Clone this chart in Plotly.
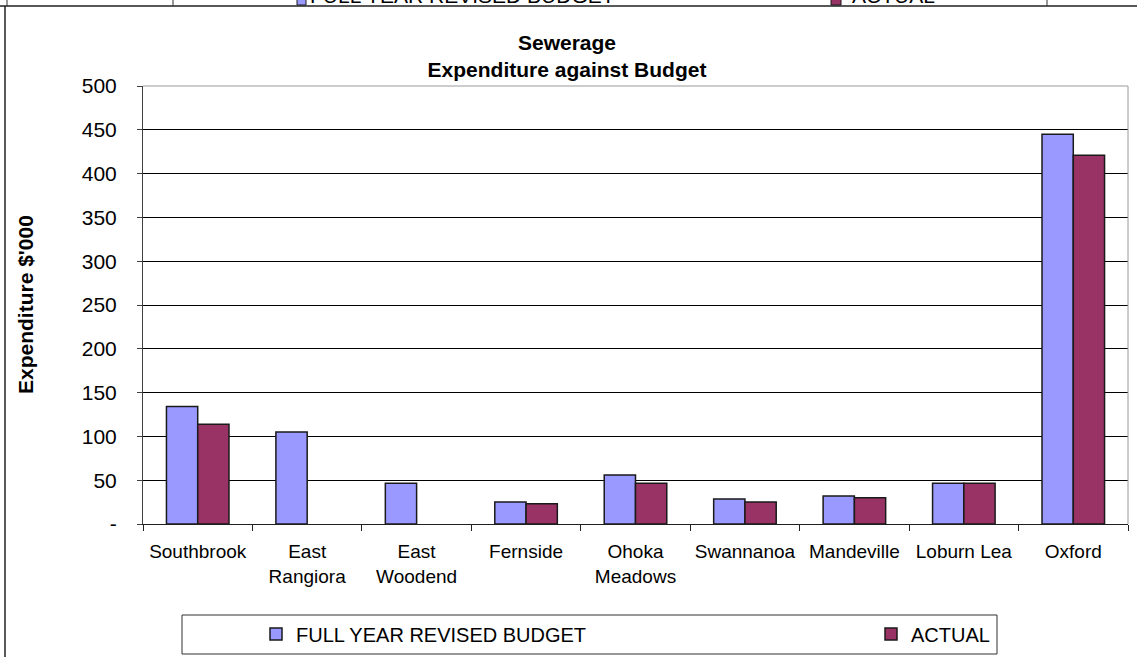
import plotly.graph_objects as go

# Sewerage capital expenditure by scheme ($'000)
schemes = ["Southbrook", "East<br>Rangiora", "East<br>Woodend", "Fernside", "Ohoka<br>Meadows",
           "Swannanoa", "Mandeville", "Loburn Lea", "Oxford"]
budget = [134, 105, 46.5, 25, 56, 28.5, 32, 46.5, 445]
actual = [114, None, None, 23, 46.5, 25, 30, 46.5, 421]

y_ticks = [0, 50, 100, 150, 200, 250, 300, 350, 400, 450, 500]
y_tick_text = ["-"] + [str(v) for v in y_ticks[1:]]

W, H = 1137, 657
L, R, T, B = 143, 1128, 86, 524
FONT = "Arial, Liberation Sans, sans-serif"


def px_x(px):
    return (px - L) / (R - L)


def px_y(py):
    return (B - py) / (B - T)


fig = go.Figure()
fig.add_trace(go.Bar(name="FULL YEAR REVISED BUDGET", x=schemes, y=budget, legend="legend",
                     marker=dict(color="#9999FF", line=dict(color="#1a1a1a", width=1.5))))
fig.add_trace(go.Bar(name="ACTUAL", x=schemes, y=actual, legend="legend2",
                     marker=dict(color="#993366", line=dict(color="#1a1a1a", width=1.5))))

shapes = [
    # plot area frame (top and right in grey)
    dict(type="line", xref="paper", yref="paper", x0=0, x1=1, y0=1, y1=1,
         line=dict(color="#9a9a9a", width=1), layer="above"),
    dict(type="line", xref="paper", yref="paper", x0=1, x1=1, y0=0, y1=1,
         line=dict(color="#9a9a9a", width=1), layer="above"),
    # outer chart border
    dict(type="line", xref="paper", yref="paper", x0=px_x(5), x1=px_x(5), y0=px_y(6), y1=px_y(700),
         line=dict(color="#202020", width=1.5)),
    dict(type="line", xref="paper", yref="paper", x0=px_x(-5), x1=px_x(1200), y0=px_y(6), y1=px_y(6),
         line=dict(color="#202020", width=1.5)),
    # legend box
    dict(type="rect", xref="paper", yref="paper", x0=px_x(182), x1=px_x(997), y0=px_y(615), y1=px_y(654),
         line=dict(color="#303030", width=1), fillcolor="rgba(0,0,0,0)"),
    # neighbouring legend strip at the top edge
    dict(type="line", xref="paper", yref="paper", x0=px_x(7), x1=px_x(7), y0=px_y(-5), y1=px_y(6),
         line=dict(color="#303030", width=1)),
    dict(type="line", xref="paper", yref="paper", x0=px_x(173), x1=px_x(173), y0=px_y(-5), y1=px_y(6),
         line=dict(color="#303030", width=1)),
    dict(type="line", xref="paper", yref="paper", x0=px_x(1047), x1=px_x(1047), y0=px_y(-5), y1=px_y(6),
         line=dict(color="#303030", width=1)),
    dict(type="rect", xref="paper", yref="paper", x0=px_x(297), x1=px_x(306), y0=px_y(-5), y1=px_y(5),
         line=dict(color="#1a1a1a", width=1), fillcolor="#9999FF"),
    dict(type="rect", xref="paper", yref="paper", x0=px_x(831), x1=px_x(841), y0=px_y(-5), y1=px_y(5),
         line=dict(color="#1a1a1a", width=1), fillcolor="#993366"),
]

annotations = [
    dict(text="<b>Expenditure $'000</b>", textangle=-90, xref="paper", yref="paper",
         x=px_x(25), y=0.5, xanchor="center", yanchor="middle", showarrow=False,
         font=dict(family=FONT, size=21, color="black")),
    dict(text="FULL YEAR REVISED BUDGET", xref="paper", yref="paper", x=px_x(308), y=px_y(9),
         xanchor="left", yanchor="bottom", showarrow=False,
         font=dict(family=FONT, size=21, color="black")),
    dict(text="ACTUAL", xref="paper", yref="paper", x=px_x(850), y=px_y(9),
         xanchor="left", yanchor="bottom", showarrow=False,
         font=dict(family=FONT, size=21, color="black")),
]

legend_common = dict(orientation="h", xanchor="left", yanchor="middle",
                     bgcolor="rgba(0,0,0,0)", borderwidth=0,
                     font=dict(family=FONT, size=20, color="black"))

fig.update_layout(
    width=W, height=H,
    margin=dict(l=L, r=W - R, t=T, b=H - B, autoexpand=False),
    paper_bgcolor="white", plot_bgcolor="white",
    showlegend=True,
    barmode="group", bargap=1.5 / 3.5, bargroupgap=0,
    font=dict(family=FONT, size=19, color="black"),
    title=dict(text="<b>Sewerage<br>Expenditure against Budget</b>",
               x=567 / W, xanchor="center", y=1 - 50 / H, yanchor="middle",
               font=dict(family=FONT, size=21, color="black")),
    xaxis=dict(type="category", tickson="boundaries", ticks="outside", ticklen=6,
               tickcolor="#202020", showline=True, linecolor="#202020", linewidth=1,
               showgrid=False, tickangle=0, ticklabelstandoff=10, automargin=False,
               tickfont=dict(family=FONT, size=19, color="black")),
    yaxis=dict(range=[0, 500], tickvals=y_ticks, ticktext=y_tick_text,
               ticks="outside", ticklen=5, tickcolor="#404040",
               showline=True, linecolor="#404040", linewidth=1,
               showgrid=True, gridcolor="black", gridwidth=1, zeroline=False,
               ticklabelstandoff=16, automargin=False,
               tickfont=dict(family=FONT, size=21, color="black")),
    legend=dict(x=px_x(256), y=px_y(634), **legend_common),
    legend2=dict(x=px_x(871), y=px_y(634), **legend_common),
    shapes=shapes,
    annotations=annotations,
)

fig.write_html("out.html")
